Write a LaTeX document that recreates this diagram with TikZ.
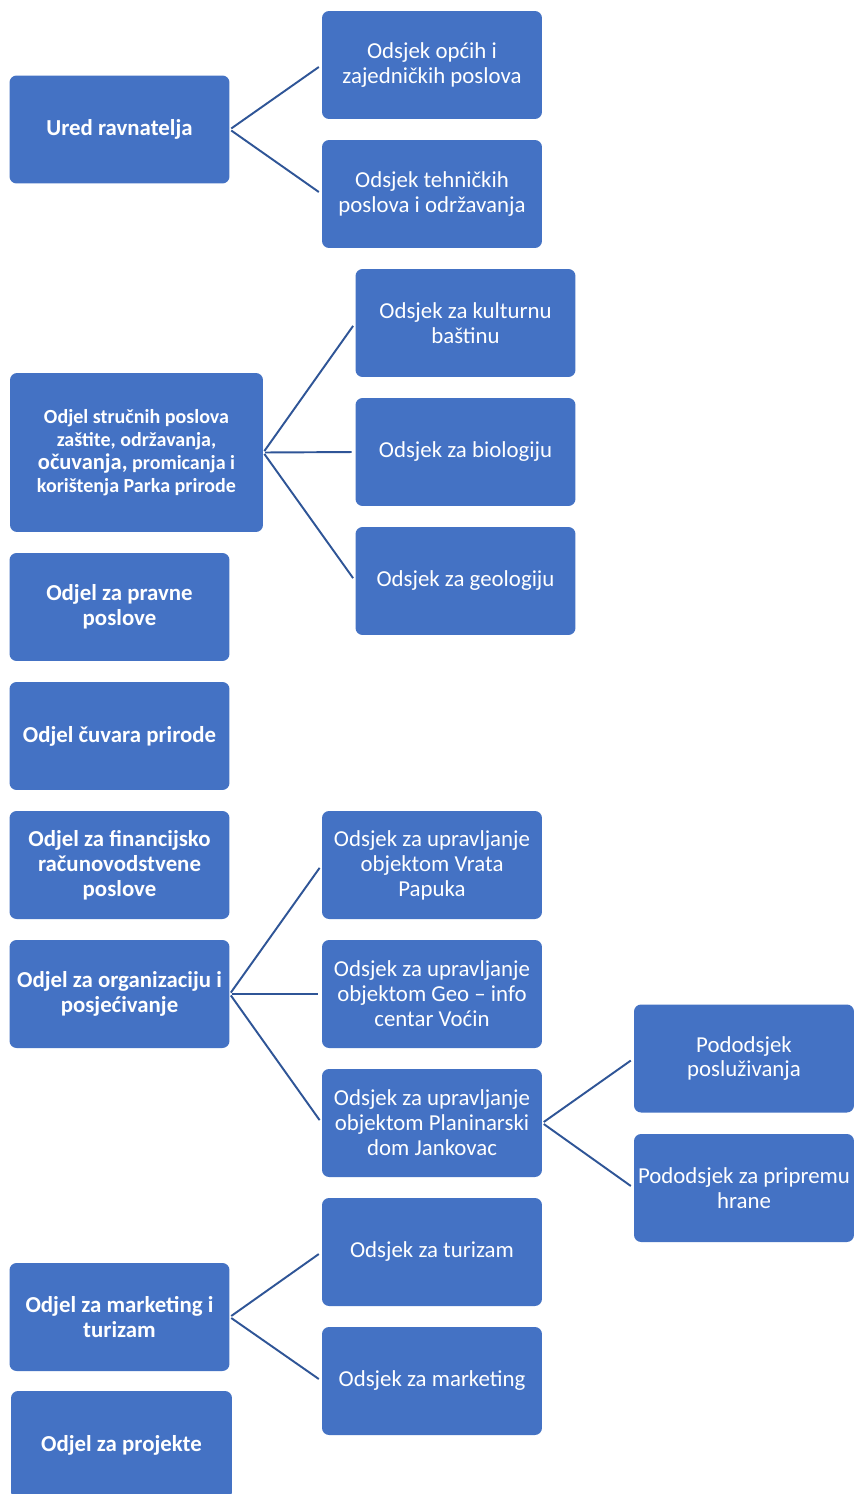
\documentclass[tikz,border=0pt]{standalone}
\usepackage{fontspec}
\setmainfont{Carlito}
\definecolor{boxblue}{HTML}{4472C4}
\definecolor{lineblue}{HTML}{2F5597}
\tikzset{box/.style={fill=boxblue, rounded corners=4pt, text=white, align=center,
           minimum width=4.4cm, minimum height=2.16cm, inner sep=0pt,
           font=\fontsize{13}{14.2}\selectfont},
         odjel/.style={box, font=\bfseries\fontsize{13}{14.2}\selectfont},
         odsjek/.style={box},
         veza/.style={draw=lineblue, line width=1.1pt, shorten <=1pt, shorten >=2pt}}

\begin{document}
\begin{tikzpicture}[x=0.02cm, y=-0.02cm]
\clip (0,0) rectangle (855,1494);
\fill[white] (0,0) rectangle (855,1494);
% odjeli
\node[odjel] (ured) at (119.5,129.5) {Ured ravnatelja};
\node[odjel, minimum width=5.06cm, minimum height=3.18cm, font=\bfseries\fontsize{11.4}{13}\selectfont] (strucni) at (136.5,452.5)
  {Odjel stručnih poslova\\zaštite, održavanja,\\{\fontsize{12.8}{13}\selectfont očuvanja,} promicanja i\\korištenja Parka prirode};
\node[odjel] (pravni) at (119.5,607) {Odjel za pravne\\poslove};
\node[odjel] (cuvari) at (119.5,736) {Odjel čuvara prirode};
\node[odjel] (financije) at (119.5,865) {Odjel za financijsko\\računovodstvene\\poslove};
\node[odjel] (organizacija) at (119.5,994) {Odjel za organizaciju i\\posjećivanje};
\node[odjel] (marketing) at (119.5,1317) {Odjel za marketing i\\turizam};
\node[odjel, minimum width=4.42cm] (projekti) at (121.5,1445) {Odjel za projekte};
% odsjeci
\node[odsjek] (opci) at (432,65) {Odsjek općih i\\zajedničkih poslova};
\node[odsjek] (tehnicki) at (432,194) {Odsjek tehničkih\\poslova i održavanja};
\node[odsjek] (kultura) at (465.5,323) {Odsjek za kulturnu\\baštinu};
\node[odsjek] (biologija) at (465.5,452) {Odsjek za biologiju};
\node[odsjek] (geologija) at (465.5,581) {Odsjek za geologiju};
\node[odsjek] (vrata) at (432,865) {Odsjek za upravljanje\\objektom Vrata\\Papuka};
\node[odsjek] (geo) at (432,994) {Odsjek za upravljanje\\objektom Geo -- info\\centar Voćin};
\node[odsjek] (planinarski) at (432,1123) {Odsjek za upravljanje\\objektom Planinarski\\dom Jankovac};
\node[odsjek] (turizam) at (432,1252) {Odsjek za turizam};
\node[odsjek] (mark) at (432,1381) {Odsjek za marketing};
% pododsjeci
\node[odsjek] (posluzivanje) at (744,1058.5) {Pododsjek\\posluživanja};
\node[odsjek] (hrana) at (744,1188) {Pododsjek za pripremu\\hrane};
% veze
\foreach \a/\b in {ured/opci, ured/tehnicki, strucni/kultura, strucni/biologija, strucni/geologija,
  organizacija/vrata, organizacija/geo, organizacija/planinarski, planinarski/posluzivanje,
  planinarski/hrana, marketing/turizam, marketing/mark}
  \draw[veza] (\a.east) -- (\b.west);
\end{tikzpicture}
\end{document}
